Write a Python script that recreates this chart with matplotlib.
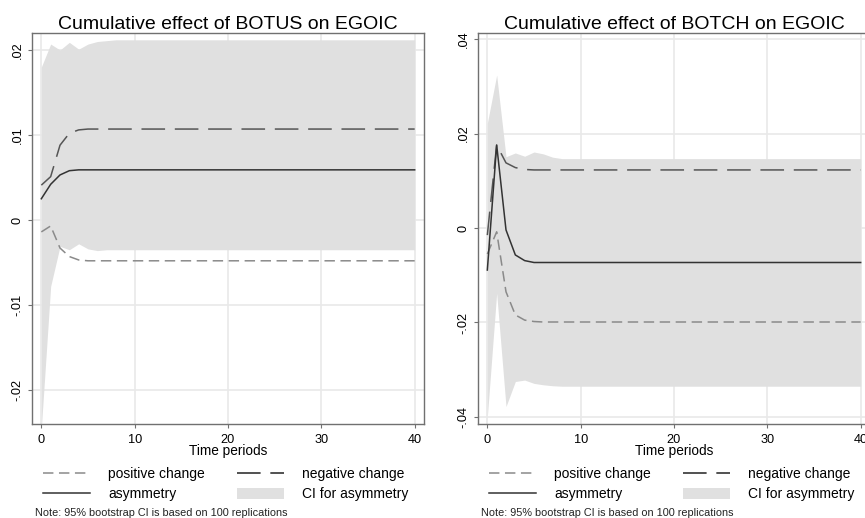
import numpy as np
import matplotlib.pyplot as plt
from matplotlib.lines import Line2D
from matplotlib.patches import Patch

plt.rcParams['font.family'] = ['Liberation Sans', 'DejaVu Sans']
plt.rcParams['lines.scale_dashes'] = False

# time periods 0..40
t = np.arange(41)

# BOTUS -> EGOIC
pos_us = [-0.0014, -0.0007, -0.0033, -0.0043, -0.0047, -0.0048, -0.0048, -0.0048, -0.0048, -0.0048,
          -0.0048, -0.0048, -0.0048, -0.0048, -0.0048, -0.0048, -0.0048, -0.0048, -0.0048, -0.0048,
          -0.0048, -0.0048, -0.0048, -0.0048, -0.0048, -0.0048, -0.0048, -0.0048, -0.0048, -0.0048,
          -0.0048, -0.0048, -0.0048, -0.0048, -0.0048, -0.0048, -0.0048, -0.0048, -0.0048, -0.0048,
          -0.0048]
neg_us = [0.0041, 0.0051, 0.0088, 0.0102, 0.0106, 0.0107, 0.0107, 0.0107, 0.0107, 0.0107,
          0.0107, 0.0107, 0.0107, 0.0107, 0.0107, 0.0107, 0.0107, 0.0107, 0.0107, 0.0107,
          0.0107, 0.0107, 0.0107, 0.0107, 0.0107, 0.0107, 0.0107, 0.0107, 0.0107, 0.0107,
          0.0107, 0.0107, 0.0107, 0.0107, 0.0107, 0.0107, 0.0107, 0.0107, 0.0107, 0.0107,
          0.0107]
asym_us = [0.0025, 0.0042, 0.0053, 0.0058, 0.0059, 0.0059, 0.0059, 0.0059, 0.0059, 0.0059,
           0.0059, 0.0059, 0.0059, 0.0059, 0.0059, 0.0059, 0.0059, 0.0059, 0.0059, 0.0059,
           0.0059, 0.0059, 0.0059, 0.0059, 0.0059, 0.0059, 0.0059, 0.0059, 0.0059, 0.0059,
           0.0059, 0.0059, 0.0059, 0.0059, 0.0059, 0.0059, 0.0059, 0.0059, 0.0059, 0.0059,
           0.0059]
ci_hi_us = [0.0180, 0.0207, 0.0200, 0.0209, 0.0201, 0.0207, 0.0210, 0.0211, 0.0212, 0.0212,
            0.0212, 0.0212, 0.0212, 0.0212, 0.0212, 0.0212, 0.0212, 0.0212, 0.0212, 0.0212,
            0.0212, 0.0212, 0.0212, 0.0212, 0.0212, 0.0212, 0.0212, 0.0212, 0.0212, 0.0212,
            0.0212, 0.0212, 0.0212, 0.0212, 0.0212, 0.0212, 0.0212, 0.0212, 0.0212, 0.0212,
            0.0212]
ci_lo_us = [-0.0245, -0.0078, -0.0031, -0.0035, -0.0028, -0.0034, -0.0036, -0.0035, -0.0035, -0.0035,
            -0.0035, -0.0035, -0.0035, -0.0035, -0.0035, -0.0035, -0.0035, -0.0035, -0.0035, -0.0035,
            -0.0035, -0.0035, -0.0035, -0.0035, -0.0035, -0.0035, -0.0035, -0.0035, -0.0035, -0.0035,
            -0.0035, -0.0035, -0.0035, -0.0035, -0.0035, -0.0035, -0.0035, -0.0035, -0.0035, -0.0035,
            -0.0035]

# BOTCH -> EGOIC
pos_ch = [-0.0055, -0.0008, -0.0135, -0.0184, -0.0195, -0.0198, -0.0199, -0.0199, -0.0199, -0.0199,
          -0.0199, -0.0199, -0.0199, -0.0199, -0.0199, -0.0199, -0.0199, -0.0199, -0.0199, -0.0199,
          -0.0199, -0.0199, -0.0199, -0.0199, -0.0199, -0.0199, -0.0199, -0.0199, -0.0199, -0.0199,
          -0.0199, -0.0199, -0.0199, -0.0199, -0.0199, -0.0199, -0.0199, -0.0199, -0.0199, -0.0199,
          -0.0199]
neg_ch = [-0.0015, 0.0176, 0.0138, 0.0128, 0.0124, 0.0123, 0.0123, 0.0123, 0.0123, 0.0123,
          0.0123, 0.0123, 0.0123, 0.0123, 0.0123, 0.0123, 0.0123, 0.0123, 0.0123, 0.0123,
          0.0123, 0.0123, 0.0123, 0.0123, 0.0123, 0.0123, 0.0123, 0.0123, 0.0123, 0.0123,
          0.0123, 0.0123, 0.0123, 0.0123, 0.0123, 0.0123, 0.0123, 0.0123, 0.0123, 0.0123,
          0.0123]
asym_ch = [-0.0089, 0.0176, -0.0004, -0.0057, -0.0069, -0.0073, -0.0073, -0.0073, -0.0073, -0.0073,
           -0.0073, -0.0073, -0.0073, -0.0073, -0.0073, -0.0073, -0.0073, -0.0073, -0.0073, -0.0073,
           -0.0073, -0.0073, -0.0073, -0.0073, -0.0073, -0.0073, -0.0073, -0.0073, -0.0073, -0.0073,
           -0.0073, -0.0073, -0.0073, -0.0073, -0.0073, -0.0073, -0.0073, -0.0073, -0.0073, -0.0073,
           -0.0073]
ci_hi_ch = [0.0222, 0.0324, 0.0151, 0.0159, 0.0152, 0.0161, 0.0157, 0.0150, 0.0147, 0.0147,
            0.0147, 0.0147, 0.0147, 0.0147, 0.0147, 0.0147, 0.0147, 0.0147, 0.0147, 0.0147,
            0.0147, 0.0147, 0.0147, 0.0147, 0.0147, 0.0147, 0.0147, 0.0147, 0.0147, 0.0147,
            0.0147, 0.0147, 0.0147, 0.0147, 0.0147, 0.0147, 0.0147, 0.0147, 0.0147, 0.0147,
            0.0147]
ci_lo_ch = [-0.0400, -0.0138, -0.0378, -0.0325, -0.0322, -0.0329, -0.0332, -0.0334, -0.0335, -0.0335,
            -0.0335, -0.0335, -0.0335, -0.0335, -0.0335, -0.0335, -0.0335, -0.0335, -0.0335, -0.0335,
            -0.0335, -0.0335, -0.0335, -0.0335, -0.0335, -0.0335, -0.0335, -0.0335, -0.0335, -0.0335,
            -0.0335, -0.0335, -0.0335, -0.0335, -0.0335, -0.0335, -0.0335, -0.0335, -0.0335, -0.0335,
            -0.0335]

xticks = [0, 10, 20, 30, 40]
yticks_us = [-0.02, -0.01, 0, 0.01, 0.02]
ylabels_us = ['-.02', '-.01', '0', '.01', '.02']
yticks_ch = [-0.04, -0.02, 0, 0.02, 0.04]
ylabels_ch = ['-.04', '-.02', '0', '.02', '.04']

W, H = 865, 518
fig = plt.figure(figsize=(W / 100, H / 100), dpi=100)

SHADE = '#e0e0e0'
GRID = '#e9e9e9'
FRAME = '#707070'
POS_STYLE = dict(color='#8a8a8a', lw=1.1, dashes=(7.5, 4))
NEG_STYLE = dict(color='#555555', lw=1.1, dashes=(17, 7))
ASYM_STYLE = dict(color='#333333', lw=1.1)


def panel(l, tp, r, b, title, pos, neg, asym, lo, hi, yt, yl, ylim):
    ax = fig.add_axes([l / W, 1 - b / H, (r - l) / W, (b - tp) / H])
    ax.set_axisbelow(True)
    ax.grid(True, color=GRID, lw=1.2, zorder=0)
    ax.fill_between(t, lo, hi, color=SHADE, lw=0, zorder=1)
    ax.plot(t, pos, zorder=3, **POS_STYLE)
    ax.plot(t, neg, zorder=3, **NEG_STYLE)
    ax.plot(t, asym, zorder=4, **ASYM_STYLE)
    ax.set_xlim(-1, 41)
    ax.set_ylim(*ylim)
    ax.set_xticks(xticks)
    ax.set_yticks(yt)
    ax.set_yticklabels(yl, rotation=90, va='center')
    ax.tick_params(axis='both', labelsize=9.2, color=FRAME, length=3, width=0.8)
    ax.tick_params(axis='y', pad=3)
    ax.tick_params(axis='x', pad=4)
    for s in ax.spines.values():
        s.set_color(FRAME)
        s.set_linewidth(1.0)
    ax.set_title(title, fontsize=14, pad=3)
    ax.set_xlabel('Time periods', fontsize=9.8, labelpad=-1)

    handles = [
        Line2D([], [], **POS_STYLE),
        Line2D([], [], **ASYM_STYLE),
        Line2D([], [], color='#222222', lw=1.1, dashes=(17, 7)),
        Patch(facecolor=SHADE, edgecolor='none'),
    ]
    labels = ['positive change', 'asymmetry', 'negative change', 'CI for asymmetry']
    ax.legend(handles, labels, ncol=2, loc='upper left', frameon=False,
              bbox_to_anchor=((l + 11) / W, 1 - 467 / H), bbox_transform=fig.transFigure,
              fontsize=10, handlelength=3.4, handleheight=0.9, handletextpad=1.3,
              columnspacing=2.3, labelspacing=0.45, borderpad=0, borderaxespad=0)
    fig.text((l + 3) / W, 1 - 513 / H, 'Note: 95% bootstrap CI is based on 100 replications',
             fontsize=7.8, va='center', ha='left', color='#222222')
    return ax


panel(32, 33, 424, 424, 'Cumulative effect of BOTUS on EGOIC',
      pos_us, neg_us, asym_us, ci_lo_us, ci_hi_us, yticks_us, ylabels_us, (-0.024, 0.022))
panel(478, 33, 870, 424, 'Cumulative effect of BOTCH on EGOIC',
      pos_ch, neg_ch, asym_ch, ci_lo_ch, ci_hi_ch, yticks_ch, ylabels_ch, (-0.0415, 0.0413))

fig.savefig('out.png', dpi=100)
plt.close(fig)
